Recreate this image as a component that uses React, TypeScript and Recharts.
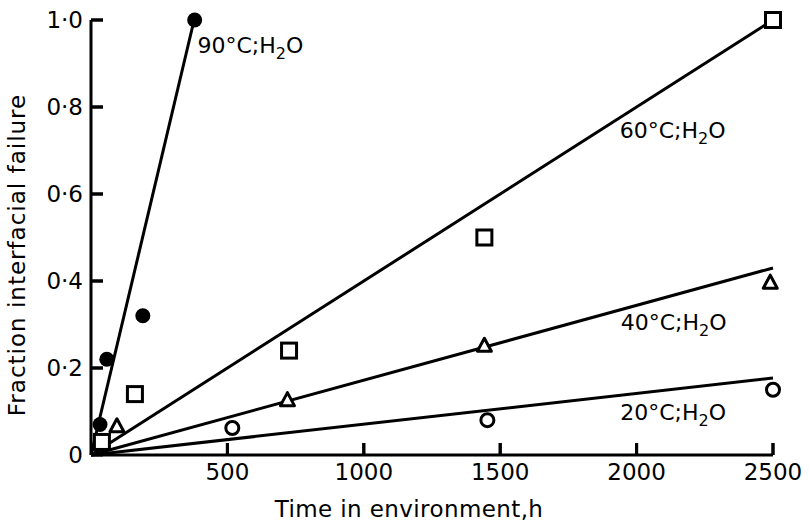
import React from 'react';
import { ComposedChart, Line, Scatter, XAxis, YAxis, ReferenceDot } from 'recharts';

// axis ticks
const xTicks = [500, 1000, 1500, 2000, 2500];
const yTicks = [0, 0.2, 0.4, 0.6, 0.8, 1.0];

// measured points (t = hours, f = fraction interfacial failure)
const pts90 = [
  { t: 33, f: 0.07 },
  { t: 58, f: 0.22 },
  { t: 190, f: 0.32 },
  { t: 380, f: 1.0 },
];
const pts60 = [
  { t: 40, f: 0.03 },
  { t: 161, f: 0.14 },
  { t: 726, f: 0.24 },
  { t: 1442, f: 0.5 },
  { t: 2500, f: 1.0 },
];
const pts40 = [
  { t: 95, f: 0.065 },
  { t: 720, f: 0.125 },
  { t: 1442, f: 0.25 },
  { t: 2490, f: 0.395 },
];
const pts20 = [
  { t: 518, f: 0.062 },
  { t: 1453, f: 0.08 },
  { t: 2500, f: 0.15 },
];

// fitted lines
const fit90 = [{ t: 0, f: 0 }, { t: 378, f: 1.0 }];
const fit60 = [{ t: 0, f: 0 }, { t: 2500, f: 1.0 }];
const fit40 = [{ t: 0, f: 0 }, { t: 2500, f: 0.43 }];
const fit20 = [{ t: 0, f: 0 }, { t: 2500, f: 0.177 }];

// line annotations
const condLabels = [
  { head: '90°C;H', t: 390, f: 0.924 },
  { head: '60°C;H', t: 1938, f: 0.729 },
  { head: '40°C;H', t: 1942, f: 0.287 },
  { head: '20°C;H', t: 1940, f: 0.08 },
];

// inward ticks: negative size, margin counts from the tick's inner end
const TICK_LEN = 12;
const LABEL_GAP = 8;
const TICK_SIZE = -TICK_LEN;
const TICK_MARGIN = TICK_LEN + LABEL_GAP;

function fmtY(v: number) {
  return v === 0 ? '0' : v.toFixed(1).replace('.', '·');
}

// the tick mark is drawn here too, from the axis inward
function YTick({ x, y, payload }: any) {
  const ax = x + LABEL_GAP;
  return (
    <g>
      {payload.value !== 0 && (
        <path d={`M${ax},${y}H${ax + TICK_LEN}`} stroke="#000" strokeWidth={3} fill="none" />
      )}
      <text x={x} y={y} textAnchor="end" dominantBaseline="central" fontSize={23} fill="#000">
        {fmtY(payload.value)}
      </text>
    </g>
  );
}

function XTick({ x, y, payload }: any) {
  const ay = y - LABEL_GAP;
  return (
    <g>
      <path d={`M${x},${ay}V${ay - TICK_LEN}`} stroke="#000" strokeWidth={3} fill="none" />
      <text x={x} y={y} dy="0.75em" textAnchor="middle" fontSize={23} fill="#000">
        {payload.value}
      </text>
    </g>
  );
}

function XTitle({ viewBox }: any) {
  return (
    <text
      x={viewBox.x + viewBox.width / 2 - 23}
      y={viewBox.y + 62}
      textAnchor="middle"
      fontSize={23}
      letterSpacing={0.4}
      fill="#000"
    >
      Time in environment,h
    </text>
  );
}

function YTitle({ viewBox }: any) {
  const cx = viewBox.x + 25;
  const cy = viewBox.y + 235;
  return (
    <text
      x={cx}
      y={cy}
      transform={`rotate(-90, ${cx}, ${cy})`}
      textAnchor="middle"
      fontSize={23}
      letterSpacing={1}
      fill="#000"
    >
      Fraction interfacial failure
    </text>
  );
}

function CondText({ viewBox, head }: any) {
  return (
    <text x={viewBox.x} y={viewBox.y} fontSize={22} fill="#000">
      {head}
      <tspan fontSize={16} dy={6}>2</tspan>
      <tspan dy={-6}>O</tspan>
    </text>
  );
}

const filledDot = (p: any) => <circle cx={p.cx} cy={p.cy} r={7.5} fill="#000" />;
const openSquare = (p: any) => (
  <rect x={p.cx - 7.5} y={p.cy - 7.5} width={15} height={15} fill="#fff" stroke="#000" strokeWidth={3} />
);
const openTriangle = (p: any) => (
  <polygon
    points={`${p.cx},${p.cy - 8} ${p.cx - 7},${p.cy + 5} ${p.cx + 7},${p.cy + 5}`}
    fill="#fff"
    stroke="#000"
    strokeWidth={3}
    strokeLinejoin="round"
  />
);
const openCircle = (p: any) => (
  <circle cx={p.cx} cy={p.cy} r={6.5} fill="#fff" stroke="#000" strokeWidth={3} />
);

export default function App() {
  return (
    <div style={{ position: 'absolute', left: 0, top: 0, background: '#fff' }}>
      <ComposedChart
        width={809}
        height={523}
        margin={{ top: 20, right: 36, bottom: 0, left: 0 }}
        style={{ fontFamily: '"DejaVu Sans", sans-serif' }}
      >
        <XAxis
          dataKey="t"
          type="number"
          domain={[0, 2500]}
          ticks={xTicks}
          height={68}
          tickSize={TICK_SIZE}
          tickMargin={TICK_MARGIN}
          tickLine={{ stroke: '#000', strokeWidth: 3 }}
          tick={<XTick />}
          axisLine={{ stroke: '#000', strokeWidth: 3 }}
          label={<XTitle />}
        />
        <YAxis
          dataKey="f"
          type="number"
          domain={[0, 1]}
          ticks={yTicks}
          width={91}
          tickSize={TICK_SIZE}
          tickMargin={TICK_MARGIN}
          tickLine={{ stroke: '#000', strokeWidth: 3 }}
          tick={<YTick />}
          axisLine={{ stroke: '#000', strokeWidth: 3 }}
          label={<YTitle />}
        />
        <Line data={fit90} dataKey="f" stroke="#000" strokeWidth={3} dot={false} isAnimationActive={false} />
        <Line data={fit60} dataKey="f" stroke="#000" strokeWidth={3} dot={false} isAnimationActive={false} />
        <Line data={fit40} dataKey="f" stroke="#000" strokeWidth={3} dot={false} isAnimationActive={false} />
        <Line data={fit20} dataKey="f" stroke="#000" strokeWidth={3} dot={false} isAnimationActive={false} />
        <Scatter data={pts90} dataKey="f" shape={filledDot} isAnimationActive={false} />
        <Scatter data={pts60} dataKey="f" shape={openSquare} isAnimationActive={false} />
        <Scatter data={pts40} dataKey="f" shape={openTriangle} isAnimationActive={false} />
        <Scatter data={pts20} dataKey="f" shape={openCircle} isAnimationActive={false} />
        {condLabels.map((c) => (
          <ReferenceDot
            key={c.head + c.t}
            x={c.t}
            y={c.f}
            r={0}
            fill="none"
            stroke="none"
            label={<CondText head={c.head} />}
          />
        ))}
      </ComposedChart>
    </div>
  );
}
